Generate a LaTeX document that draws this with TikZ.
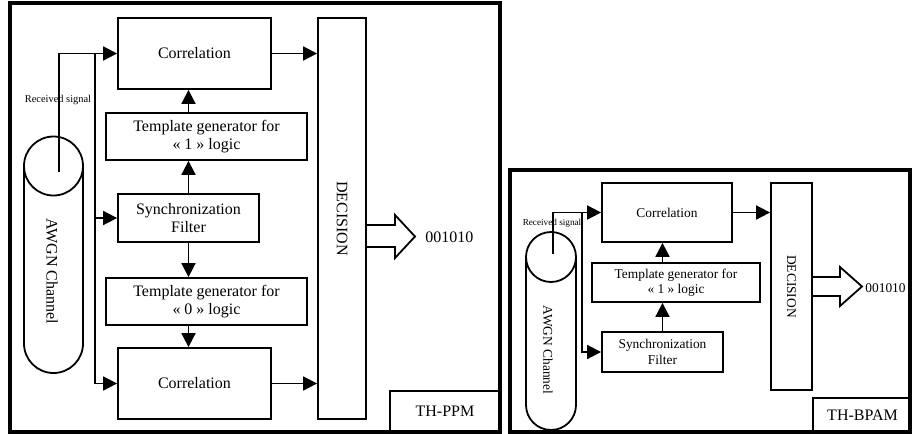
\documentclass[tikz,border=0pt]{standalone}
\usepackage{fontspec}
\setmainfont{Liberation Serif}
\usetikzlibrary{positioning,arrows.meta,calc}
\tikzset{
  rxbox/.style={draw, line width=0.9pt, align=center, inner sep=1pt},
  rxframe/.style={draw, line width=1.8pt},
  rxline/.style={line width=0.9pt},
  rxarrow/.style={rxline, -{Triangle[length=7pt,width=7pt]}},
  rxbig/.style={font=\fontsize{8}{9}\selectfont},
  rxsmall/.style={font=\fontsize{6.7}{7.6}\selectfont},
  rxtiny/.style={inner sep=0pt, font=\fontsize{5.2}{6}\selectfont},
}

\begin{document}
\begin{tikzpicture}[x=0.5pt, y=-0.5pt]
  \useasboundingbox (0,0) rectangle (912,434);

  % TH-PPM receiver
  \draw[rxframe] (10,3) rectangle (500,432);
  \node[rxbox, rxbig, minimum width=76.5pt, minimum height=35.5pt] (corr1) at (194.5,53.5) {Correlation};
  \node[rxbox, rxbig, minimum width=100.5pt, minimum height=23.5pt] (tpl1) at (206.5,136.5) {Template generator for\\« 1 » logic};
  \node[rxbox, rxbig, minimum width=70.5pt, minimum height=24pt] (sync1) at (188.5,218) {Synchronization\\Filter};
  \node[rxbox, rxbig, minimum width=100.5pt, minimum height=23.5pt] (tpl0) at (206.5,301.5) {Template generator for\\« 0 » logic};
  \node[rxbox, rxbig, minimum width=76.5pt, minimum height=35.5pt] (corr0) at (194.5,383.5) {Correlation};
  \node[rxbox, rxbig, minimum width=24pt, minimum height=200.5pt] (dec1) at (342,218.5) {\rotatebox{-90}{DECISION}};
  \node[rxbox, rxbig, minimum width=55pt, minimum height=20.5pt] (tag1) at (445,411.5) {TH-PPM};

  \draw[rxline] (53.5,166) circle[radius=14.75pt];
  \draw[rxline] (24,166) -- (24,343.5) arc[start angle=180, end angle=360, radius=14.75pt] -- (83,166);
  \node[rxbig] (awgn1) at (52,271) {\rotatebox{-90}{AWGN Channel}};
  \node[rxtiny] (rx1) at (58,100) {Received signal};
  \coordinate (ch1) at (59,172);
  \coordinate (bus1) at (95,53.5);

  \draw[rxarrow] (ch1) |- (corr1.west);
  \draw[rxarrow] (bus1) |- (corr0.west);
  \draw[rxarrow] (bus1 |- sync1.west) -- (sync1.west);
  \draw[rxarrow] (sync1.north) -- (sync1.north |- tpl1.south);
  \draw[rxarrow] (sync1.north |- tpl1.north) -- (sync1.north |- corr1.south);
  \draw[rxarrow] (sync1.south) -- (sync1.south |- tpl0.north);
  \draw[rxarrow] (sync1.south |- tpl0.south) -- (sync1.south |- corr0.north);
  \draw[rxarrow] (corr1.east) -- (corr1.east -| dec1.west);
  \draw[rxarrow] (corr0.east) -- (corr0.east -| dec1.west);

  \draw[rxline] (366,225) -- (395,225) -- (395,215) -- (415,236.5) -- (395,258) -- (395,247) -- (366,247);
  \node[rxbig, anchor=west, inner sep=0pt] (out1) at (425,237) {001010};

  % TH-BPAM receiver
  \draw[rxframe] (510,170) rectangle (910,432);
  \node[rxbox, rxsmall, minimum width=65pt, minimum height=29.5pt] (corr2) at (667,212.5) {Correlation};
  \node[rxbox, rxsmall, minimum width=84pt, minimum height=19.5pt] (tpl2) at (676,282.5) {Template generator for\\« 1 » logic};
  \node[rxbox, rxsmall, minimum width=60.5pt, minimum height=20pt] (sync2) at (662.5,352) {Synchronization\\Filter};
  \node[rxbox, rxsmall, minimum width=20.5pt, minimum height=103.5pt] (dec2) at (791.5,286.5) {\rotatebox{-90}{DECISION}};
  \node[rxbox, rxbig, minimum width=49.5pt, minimum height=17pt] (tag2) at (862.5,415) {TH-BPAM};

  \draw[rxline] (551,257) circle[radius=12.5pt];
  \draw[rxline] (526,257) -- (526,405) arc[start angle=180, end angle=360, radius=12.5pt] -- (576,257);
  \node[rxsmall] (awgn2) at (548,350) {\rotatebox{-90}{AWGN Channel}};
  \node[rxtiny, font=\fontsize{4.6}{5}\selectfont] (rx2) at (552,223) {Received signal};
  \coordinate (ch2) at (553,254);
  \coordinate (bus2) at (582,212.5);

  \draw[rxarrow] (ch2) |- (corr2.west);
  \draw[rxarrow] (bus2) |- (sync2.west);
  \draw[rxarrow] (sync2.north) -- (sync2.north |- tpl2.south);
  \draw[rxarrow] (sync2.north |- tpl2.north) -- (sync2.north |- corr2.south);
  \draw[rxarrow] (corr2.east) -- (corr2.east -| dec2.west);

  \draw[rxline] (812,277) -- (840,277) -- (840,267) -- (862,286.5) -- (840,306) -- (840,296) -- (812,296);
  \node[rxsmall, anchor=west, inner sep=0pt] (out2) at (865,288) {001010};
\end{tikzpicture}
\end{document}
